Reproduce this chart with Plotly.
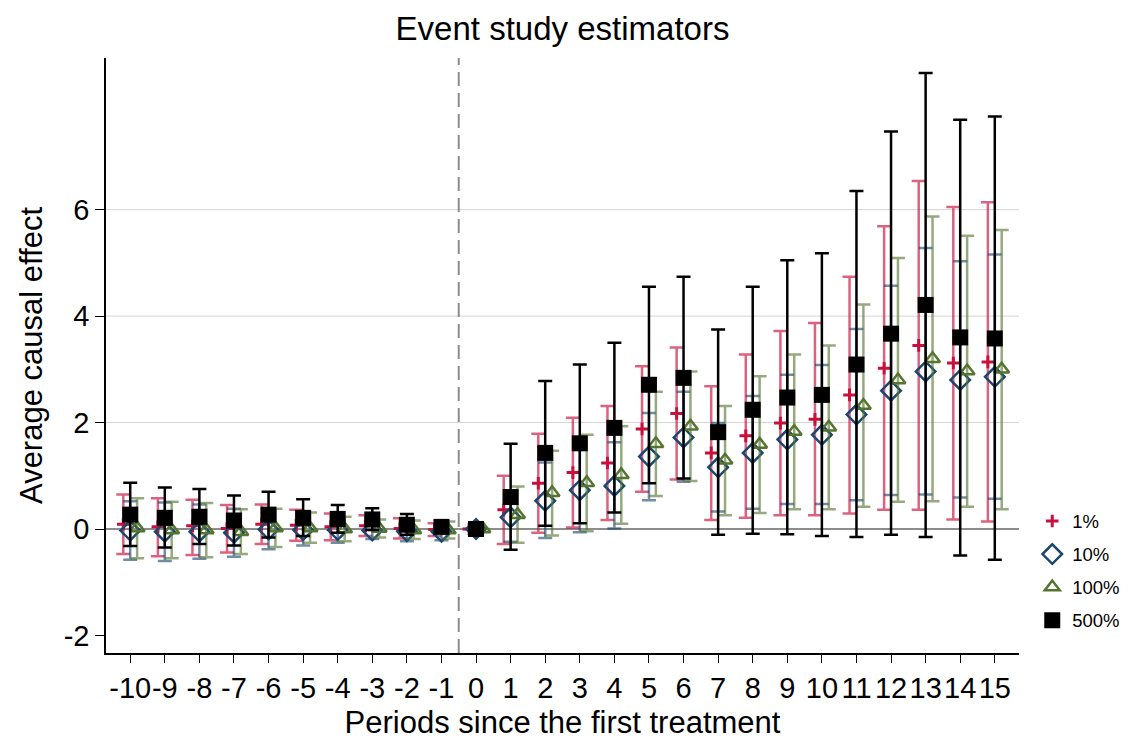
import plotly.graph_objects as go

periods = list(range(-10, 16))
tick_labels = [str(p) for p in periods]
y_ticks = [-2, 0, 2, 4, 6]
y_tick_labels = ["-2", "0", "2", "4", "6"]
grid_vals = [2, 4, 6]

# 1% estimator
est_1 = [0.09, 0.04, 0.06, 0.01, 0.09, 0.07, 0.04, 0.06, 0.01, -0.01, 0.0,
         0.36, 0.86, 1.06, 1.24, 1.88, 2.17, 1.43, 1.75, 1.99, 2.06, 2.52, 3.02, 3.45, 3.12, 3.14]
lo_1 = [-0.47, -0.51, -0.49, -0.44, -0.28, -0.22, -0.21, -0.13, -0.18, -0.13, 0.0,
        -0.28, -0.07, 0.03, 0.17, 0.70, 0.93, 0.17, 0.21, 0.26, 0.26, 0.29, 0.36, 0.36, 0.18, 0.14]
hi_1 = [0.65, 0.58, 0.55, 0.45, 0.46, 0.36, 0.29, 0.26, 0.20, 0.11, 0.0,
        1.00, 1.79, 2.09, 2.31, 3.06, 3.41, 2.68, 3.28, 3.72, 3.87, 4.74, 5.69, 6.54, 6.05, 6.14]

# 10% estimator
est_10 = [-0.03, -0.05, -0.05, -0.07, -0.01, -0.02, -0.02, -0.03, -0.04, -0.05, 0.0,
          0.22, 0.53, 0.73, 0.81, 1.36, 1.72, 1.16, 1.43, 1.68, 1.77, 2.15, 2.60, 2.96, 2.80, 2.86]
lo_10 = [-0.58, -0.60, -0.56, -0.52, -0.38, -0.31, -0.26, -0.19, -0.23, -0.21, 0.0,
         -0.24, -0.17, -0.06, 0.01, 0.54, 0.89, 0.33, 0.38, 0.47, 0.47, 0.54, 0.64, 0.65, 0.59, 0.57]
hi_10 = [0.52, 0.50, 0.46, 0.38, 0.36, 0.27, 0.22, 0.13, 0.15, 0.11, 0.0,
         0.68, 1.25, 1.52, 1.63, 2.18, 2.58, 1.99, 2.50, 2.90, 3.08, 3.76, 4.57, 5.28, 5.03, 5.16]

# 100% estimator
est_100 = [0.02, -0.02, -0.02, -0.05, 0.02, 0.02, 0.0, 0.01, -0.02, -0.02, 0.0,
           0.27, 0.68, 0.87, 1.02, 1.60, 1.93, 1.29, 1.59, 1.83, 1.91, 2.32, 2.80, 3.20, 2.97, 3.00]
lo_100 = [-0.55, -0.55, -0.53, -0.47, -0.34, -0.26, -0.23, -0.16, -0.19, -0.18, 0.0,
          -0.26, -0.12, -0.04, 0.10, 0.62, 0.90, 0.26, 0.30, 0.37, 0.37, 0.42, 0.51, 0.52, 0.42, 0.37]
hi_100 = [0.58, 0.51, 0.49, 0.37, 0.38, 0.31, 0.23, 0.18, 0.16, 0.14, 0.0,
          0.80, 1.47, 1.77, 1.93, 2.58, 2.96, 2.31, 2.87, 3.28, 3.45, 4.22, 5.09, 5.87, 5.51, 5.62]

# 500% estimator
est_500 = [0.27, 0.21, 0.23, 0.16, 0.27, 0.21, 0.19, 0.18, 0.08, 0.04, 0.0,
           0.60, 1.43, 1.61, 1.90, 2.71, 2.84, 1.82, 2.24, 2.47, 2.52, 3.09, 3.67, 4.21, 3.60, 3.58]
lo_500 = [-0.32, -0.35, -0.28, -0.31, -0.16, -0.13, -0.07, -0.02, -0.11, -0.07, 0.0,
          -0.39, 0.06, 0.11, 0.31, 0.86, 0.95, -0.11, -0.09, -0.10, -0.13, -0.15, -0.11, -0.15, -0.50, -0.58]
hi_500 = [0.87, 0.78, 0.75, 0.63, 0.70, 0.56, 0.45, 0.39, 0.28, 0.15, 0.0,
          1.60, 2.78, 3.09, 3.50, 4.55, 4.74, 3.75, 4.55, 5.05, 5.18, 6.35, 7.47, 8.57, 7.69, 7.75]

FONT = "Liberation Sans, Arial, Helvetica, sans-serif"


def err(est, lo, hi):
    return dict(type="data", symmetric=False,
                array=[h - e for e, h in zip(est, hi)],
                arrayminus=[e - l for e, l in zip(est, lo)])


series = [
    ("1%", est_1, lo_1, hi_1, -0.2,
     dict(symbol="cross-thin", size=9, color="#c8103c", line=dict(color="#c8103c", width=3)),
     "rgba(200,16,60,0.65)"),
    ("10%", est_10, lo_10, hi_10, 0.0,
     dict(symbol="diamond-open", size=15, color="#1a476f", line=dict(color="#1a476f", width=2.5)),
     "rgba(26,71,111,0.62)"),
    ("100%", est_100, lo_100, hi_100, 0.2,
     dict(symbol="triangle-up-open", size=13, color="#55752f", line=dict(color="#55752f", width=2.5)),
     "rgba(85,117,47,0.62)"),
    ("500%", est_500, lo_500, hi_500, 0.0,
     dict(symbol="square", size=16, color="black", line=dict(width=0)),
     "black"),
]

fig = go.Figure()
for name, est, lo, hi, off, marker, ecol in series:
    e = err(est, lo, hi)
    e.update(color=ecol, thickness=2.5, width=7)
    fig.add_trace(go.Scatter(
        x=[p + off for p in periods], y=est, mode="markers", name=name,
        legendgroup=name, marker=marker, error_y=e, cliponaxis=False,
    ))

shapes = []
for g in grid_vals:
    shapes.append(dict(type="line", xref="paper", yref="y", x0=0, x1=1, y0=g, y1=g,
                       line=dict(color="#d4d4d4", width=1), layer="below"))
shapes.append(dict(type="line", xref="paper", yref="y", x0=0, x1=1, y0=0, y1=0,
                   line=dict(color="#8c8c8c", width=2), layer="below"))
shapes.append(dict(type="line", xref="x", yref="paper", x0=-0.5, x1=-0.5, y0=0, y1=1,
                   line=dict(color="#8c8c8c", width=2, dash="14px,7px"), layer="below"))

fig.update_layout(
    width=1137, height=740,
    margin=dict(l=106, r=116, t=58, b=87),
    paper_bgcolor="white", plot_bgcolor="white",
    font=dict(family=FONT, color="black", size=22),
    title=dict(text="Event study estimators", x=0.5, xref="paper", y=0.962, yref="container",
               yanchor="middle", xanchor="center", font=dict(size=33, family=FONT, color="black")),
    shapes=shapes,
    showlegend=True,
    legend=dict(x=1.0145, xanchor="left", y=0.253, yanchor="top", font=dict(size=18.5, family=FONT),
                bgcolor="rgba(0,0,0,0)", itemsizing="trace", tracegroupgap=6),
    xaxis=dict(range=[-10.7, 15.7], tickvals=periods, ticktext=tick_labels, tickangle=0,
               ticks="outside", ticklen=8, tickwidth=1.2, tickcolor="black",
               showline=True, linecolor="black", linewidth=1.5, automargin=False,
               showgrid=False, zeroline=False, tickfont=dict(size=29),
               title=dict(text="Periods since the first treatment", font=dict(size=31), standoff=9)),
    yaxis=dict(range=[-2.33, 8.85], tickvals=y_ticks, ticktext=y_tick_labels, ticks="outside",
               ticklen=9, automargin=False,
               tickwidth=1.2, tickcolor="black", showline=True, linecolor="black", linewidth=1.5,
               showgrid=False, zeroline=False, tickfont=dict(size=29),
               title=dict(text="Average causal effect", font=dict(size=31), standoff=12)),
)

fig.write_html("out.html", config={"displayModeBar": False},
               post_script="document.body.style.margin='0';document.body.style.overflow='hidden';")
